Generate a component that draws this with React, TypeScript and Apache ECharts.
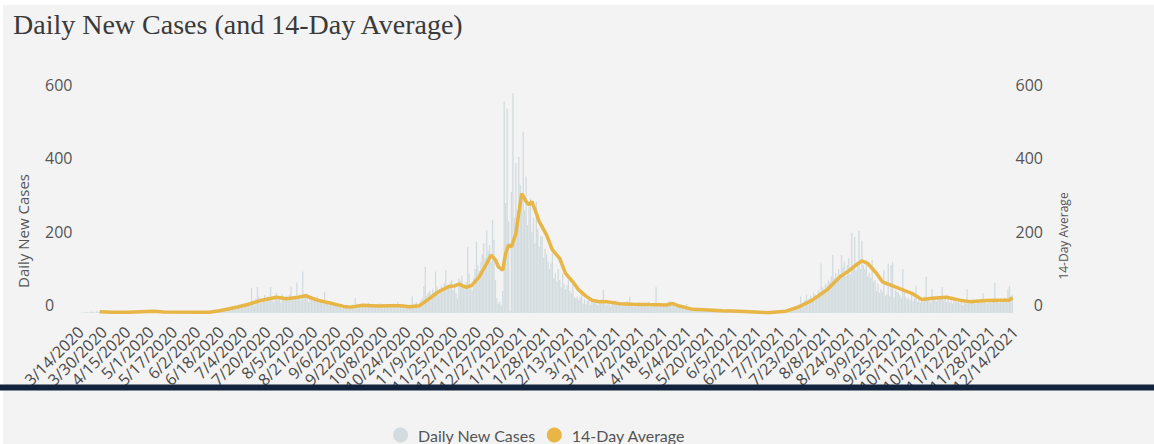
import React, { useEffect, useRef } from "react";
import * as echarts from "echarts";

// ---- categories: one per day, 3/14/2020 .. 12/14/2021 ----
const START_UTC = Date.UTC(2020, 2, 14);
const DAY_COUNT = 641;
const dayLabels: string[] = [];
for (let i = 0; i < DAY_COUNT; i++) {
  const d = new Date(START_UTC + i * 86400000);
  dayLabels.push(`${d.getUTCMonth() + 1}/${d.getUTCDate()}/${d.getUTCFullYear()}`);
}

// ---- daily new cases, 16 days per row ----
const dailyCases: number[] = [
  1, 0, 2, 1, 3, 2, 1, 4, 2, 3, 1, 5, 2, 3, 4, 2,
  4, 2, 5, 3, 2, 1, 6, 3, 4, 2, 3, 5, 1, 2, 4, 3,
  2, 3, 1, 4, 2, 3, 5, 2, 1, 3, 2, 4, 3, 2, 1, 3,
  4, 6, 8, 5, 3, 7, 4, 2, 3, 5, 2, 3, 4, 2, 3, 1,
  2, 3, 1, 2, 4, 2, 3, 1, 2, 3, 2, 1, 3, 2, 2, 3,
  2, 1, 3, 4, 2, 3, 5, 3, 4, 6, 2, 5, 7, 4, 6, 8,
  9, 7, 12, 10, 14, 8, 11, 16, 13, 18, 10, 15, 22, 19, 14, 25,
  18, 26, 21, 30, 24, 68, 28, 20, 38, 71, 45, 27, 40, 36, 50, 33,
  45, 38, 71, 42, 30, 48, 55, 36, 41, 28, 52, 44, 39, 47, 33, 50,
  73, 40, 45, 38, 83, 42, 50, 36, 113, 48, 44, 52, 30, 39, 41, 35,
  38, 32, 45, 28, 36, 30, 25, 58, 27, 33, 22, 29, 24, 31, 20, 26,
  18, 22, 15, 12, 20, 17, 14, 19, 13, 16, 24, 21, 41, 15, 23, 19,
  22, 18, 25, 16, 20, 28, 17, 21, 19, 24, 15, 23, 20, 26, 18, 22,
  21, 17, 24, 19, 23, 16, 26, 20, 18, 31, 22, 17, 15, 20, 14, 18,
  16, 19, 22, 45, 18, 25, 30, 22, 28, 35, 40, 72, 126, 48, 55, 60,
  52, 64, 58, 113, 70, 48, 66, 75, 59, 82, 117, 68, 72, 85, 90, 62,
  78, 55, 40, 95, 88, 102, 70, 64, 85, 181, 110, 76, 60, 95, 120, 194,
  130, 115, 140, 160, 190, 150, 226, 170, 185, 140, 254, 200, 90, 40, 25, 30,
  20, 60, 576, 300, 558, 250, 5, 330, 599, 260, 409, 280, 426, 350, 310, 494,
  280, 372, 240, 290, 313, 220, 260, 190, 304, 230, 180, 210, 208, 150, 175, 160,
  140, 120, 135, 163, 95, 110, 85, 120, 90, 70, 108, 80, 65, 75, 90, 60,
  55, 90, 42, 40, 45, 35, 42, 50, 26, 38, 24, 33, 45, 22, 36, 30,
  28, 35, 22, 30, 26, 38, 63, 24, 20, 32, 27, 18, 29, 25, 34, 21,
  26, 22, 30, 19, 28, 24, 33, 20, 45, 23, 18, 27, 25, 21, 30, 22,
  24, 19, 28, 21, 25, 30, 18, 23, 26, 20, 70, 22, 17, 24, 27, 19,
  23, 28, 25, 32, 20, 26, 30, 22, 18, 24, 16, 19, 15, 21, 14, 25,
  12, 14, 10, 13, 9, 11, 8, 12, 7, 10, 9, 6, 8, 11, 7, 9,
  6, 8, 5, 7, 4, 6, 9, 5, 3, 7, 6, 4, 5, 3, 6, 4,
  5, 3, 4, 2, 6, 3, 2, 4, 5, 1, 3, 2, 4, 3, 1, 2,
  2, 1, 3, 0, 2, 1, 2, 1, 3, 2, 4, 3, 5, 2, 6, 4,
  5, 7, 4, 9, 6, 11, 8, 13, 10, 16, 20, 14, 25, 45, 22, 30,
  35, 50, 28, 40, 48, 38, 55, 50, 45, 62, 58, 135, 70, 66, 80, 75,
  90, 85, 100, 158, 95, 110, 88, 120, 105, 158, 125, 140, 100, 130, 150, 105,
  218, 130, 207, 115, 140, 224, 120, 197, 130, 120, 145, 100, 110, 95, 145, 85,
  90, 60, 80, 55, 65, 58, 118, 48, 52, 135, 45, 131, 140, 42, 62, 58,
  55, 48, 40, 120, 60, 45, 38, 42, 35, 50, 32, 40, 74, 30, 36, 28,
  38, 30, 45, 99, 35, 40, 28, 65, 38, 44, 32, 48, 36, 42, 70, 34,
  38, 30, 42, 28, 35, 25, 40, 33, 29, 37, 26, 31, 22, 34, 28, 65,
  30, 26, 35, 28, 32, 24, 38, 30, 27, 33, 54, 29, 36, 25, 31, 28,
  35, 30, 82, 33, 38, 27, 40, 34, 29, 42, 36, 65, 74, 45, 50,
];

// ---- 14-day average, read at these day indices (days since 3/14/2020) ----
const avgDay: number[] = [
  13, 21, 33, 50, 57, 81, 88, 95, 101, 108, 115, 124, 134, 141, 149, 154, 163, 172, 180, 185,
  193, 199, 204, 211, 218, 221, 225, 232, 239, 245, 252, 256, 259, 264, 268, 273, 278, 281, 284, 286,
  289, 291, 293, 295, 298, 300, 302, 305, 307, 309, 312, 314, 319, 323, 328, 332, 337, 341, 346, 350,
  355, 360, 369, 378, 389, 401, 405, 410, 419, 430, 439, 451, 470, 483, 492, 501, 511, 520, 526, 531,
  535, 539, 545, 549, 556, 563, 570, 576, 583, 593, 602, 609, 620, 631, 636, 638,
];
const avgValue: number[] = [
  3.5, 2, 2, 5, 3, 2, 2, 6, 11, 17, 24, 35, 43, 39, 43, 47, 34, 26, 18, 16,
  21, 20, 19, 20, 20, 19, 17, 20, 40, 58, 72, 74, 79, 70, 76, 99, 135, 158, 145, 126,
  117, 163, 185, 181, 217, 272, 326, 304, 295, 304, 272, 249, 213, 172, 149, 108, 85, 63, 46, 35,
  31, 31, 25, 24, 23, 22, 26, 19, 10, 8, 6, 5, 1, 5, 17, 35, 63, 99, 115, 131,
  142, 135, 108, 85, 74, 63, 52, 37, 40, 43, 35, 31, 34, 35, 35, 42,
];

const yTicks = { min: 0, max: 600, interval: 200 };

const BAR_COLOR = "#d2dbde";
const LINE_COLOR = "#e8b647";
const TEXT_COLOR = "#555555";

export default function App() {
  const ref = useRef<HTMLDivElement>(null);

  useEffect(() => {
    if (!ref.current) return;
    const chart = echarts.init(ref.current, undefined, { renderer: "svg" });
    const axisFont = '"Open Sans", "Noto Sans", sans-serif';
    chart.setOption({
      animation: false,
      backgroundColor: "transparent",
      title: {
        text: "Daily New Cases (and 14-Day Average)",
        left: 13,
        top: 10,
        padding: 0,
        textStyle: {
          fontFamily: '"Liberation Serif", "Times New Roman", serif',
          fontSize: 28,
          fontWeight: "normal",
          color: "#3a3a3a",
        },
      },
      legend: {
        left: 393,
        top: 427,
        padding: 0,
        itemWidth: 15,
        itemHeight: 15,
        itemGap: 11,
        icon: "circle",
        data: ["Daily New Cases", "14-Day Average"],
        textStyle: {
          fontFamily: 'Lato, "Open Sans", sans-serif',
          fontSize: 16,
          color: TEXT_COLOR,
          padding: [0, 0, 0, 5],
        },
      },
      grid: { left: 80, right: 138, top: 93, bottom: 131, containLabel: false },
      xAxis: {
        type: "category",
        data: dayLabels,
        boundaryGap: true,
        axisLine: { show: false },
        axisTick: { show: false },
        axisLabel: {
          interval: 15,
          rotate: 45,
          margin: 16,
          fontSize: 16,
          color: "#4a4a4a",
          fontFamily: axisFont,
        },
      },
      yAxis: [
        {
          type: "value",
          position: "left",
          ...yTicks,
          splitLine: { show: false },
          axisLine: { show: false },
          axisTick: { show: false },
          axisLabel: {
            align: "left",
            verticalAlign: "bottom",
            margin: 35,
            fontSize: 16,
            color: TEXT_COLOR,
            fontFamily: axisFont,
          },
        },
        {
          type: "value",
          position: "right",
          ...yTicks,
          splitLine: { show: false },
          axisLine: { show: false },
          axisTick: { show: false },
          axisLabel: {
            align: "right",
            verticalAlign: "bottom",
            margin: 27,
            fontSize: 16,
            color: TEXT_COLOR,
            fontFamily: axisFont,
          },
        },
      ],
      series: [
        {
          name: "Daily New Cases",
          type: "bar",
          yAxisIndex: 0,
          data: dailyCases,
          barCategoryGap: "12%",
          itemStyle: { color: BAR_COLOR },
        },
        {
          name: "14-Day Average",
          type: "line",
          yAxisIndex: 1,
          data: avgDay.map((d, i) => [d, avgValue[i]]),
          symbol: "none",
          showSymbol: false,
          lineStyle: { color: LINE_COLOR, width: 3.5 },
          itemStyle: { color: LINE_COLOR },
          z: 3,
        },
      ],
      graphic: [
        {
          type: "text",
          x: 23,
          y: 231,
          rotation: Math.PI / 2,
          style: {
            text: "Daily New Cases",
            fontSize: 15,
            fontFamily: axisFont,
            fill: TEXT_COLOR,
            align: "center",
            verticalAlign: "middle",
          },
        },
        {
          type: "text",
          x: 1063,
          y: 236,
          rotation: Math.PI / 2,
          style: {
            text: "14-Day Average",
            fontSize: 12,
            fontFamily: axisFont,
            fill: TEXT_COLOR,
            align: "center",
            verticalAlign: "middle",
          },
        },
        {
          type: "rect",
          z: 100,
          shape: { x: 0, y: 384.5, width: 1154, height: 6 },
          style: { fill: "#12233d" },
        },
      ],
    });
    return () => chart.dispose();
  }, []);

  return (
    <div style={{ position: "absolute", left: 0, top: 0, width: 1154, height: 444, background: "#ffffff", overflow: "hidden" }}>
      <div style={{ position: "absolute", left: 3, top: 5, right: 0, bottom: 0, background: "#f3f3f3" }} />
      <div ref={ref} style={{ position: "absolute", left: 0, top: 0, width: 1154, height: 444 }} />
    </div>
  );
}
